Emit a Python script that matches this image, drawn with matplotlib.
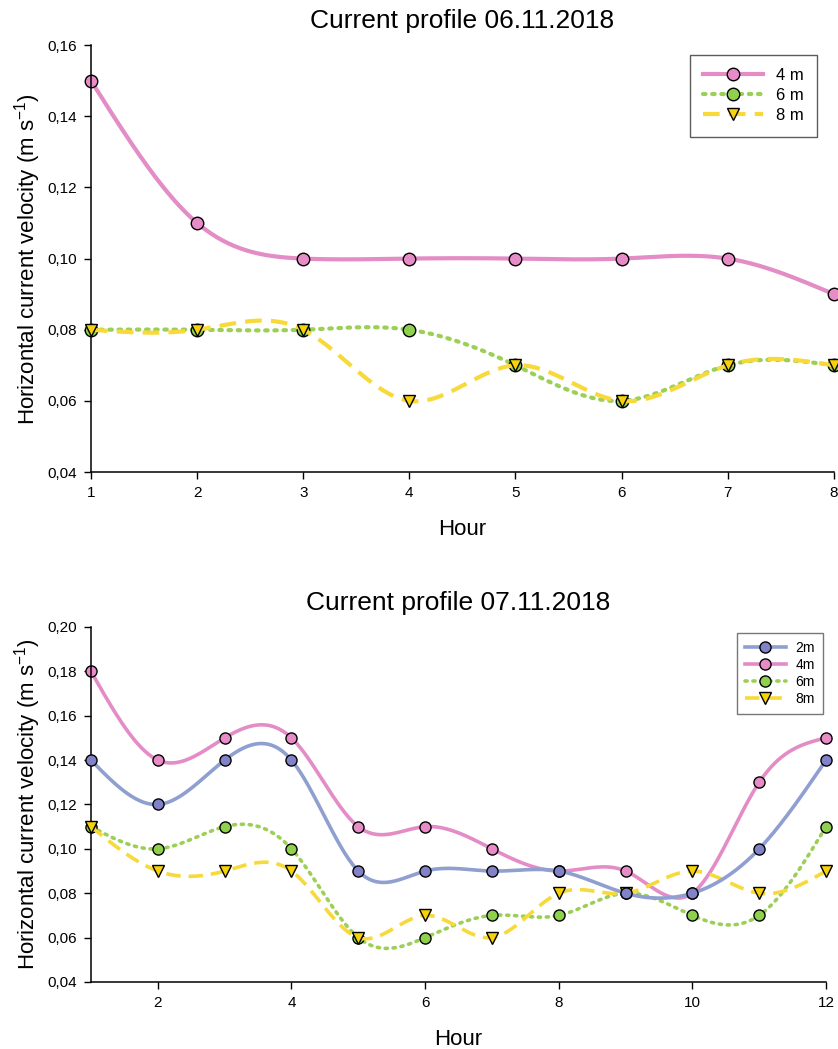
"""Current profiles, two panels, SigmaPlot-like spline curves."""

import matplotlib
matplotlib.use("Agg")
import matplotlib.pyplot as plt
import numpy as np
from matplotlib.ticker import FuncFormatter

plt.rcParams["font.family"] = ["Liberation Sans", "DejaVu Sans"]
plt.rcParams["mathtext.fontset"] = "custom"
plt.rcParams["mathtext.rm"] = "Liberation Sans"
plt.rcParams["mathtext.it"] = "Liberation Sans"

# --- data: 06.11.2018 ---
hours_a = [1, 2, 3, 4, 5, 6, 7, 8]
a_4m = [0.15, 0.11, 0.10, 0.10, 0.10, 0.10, 0.10, 0.09]
a_6m = [0.08, 0.08, 0.08, 0.08, 0.07, 0.06, 0.07, 0.07]
a_8m = [0.08, 0.08, 0.08, 0.06, 0.07, 0.06, 0.07, 0.07]

# --- data: 07.11.2018 ---
hours_b = [1, 2, 3, 4, 5, 6, 7, 8, 9, 10, 11, 12]
b_2m = [0.14, 0.12, 0.14, 0.14, 0.09, 0.09, 0.09, 0.09, 0.08, 0.08, 0.10, 0.14]
b_4m = [0.18, 0.14, 0.15, 0.15, 0.11, 0.11, 0.10, 0.09, 0.09, 0.08, 0.13, 0.15]
b_6m = [0.11, 0.10, 0.11, 0.10, 0.06, 0.06, 0.07, 0.07, 0.08, 0.07, 0.07, 0.11]
b_8m = [0.11, 0.09, 0.09, 0.09, 0.06, 0.07, 0.06, 0.08, 0.08, 0.09, 0.08, 0.09]

PINK_L, PINK_M = "#e38cc6", "#e88cc8"
BLUE_L, BLUE_M = "#8e9fd0", "#8282c8"
GREEN_L, GREEN_M = "#9ccf55", "#8fd04f"
YEL_L, YEL_M = "#f8d93a", "#f5d20a"


def natural_spline(x, y, n=400):
    """Natural cubic spline through the points, for drawing only."""
    x = np.asarray(x, float)
    y = np.asarray(y, float)
    k = len(x)
    h = np.diff(x)
    A = np.zeros((k, k))
    r = np.zeros(k)
    A[0, 0] = A[-1, -1] = 1.0
    for i in range(1, k - 1):
        A[i, i - 1] = h[i - 1]
        A[i, i] = 2 * (h[i - 1] + h[i])
        A[i, i + 1] = h[i]
        r[i] = 6 * ((y[i + 1] - y[i]) / h[i] - (y[i] - y[i - 1]) / h[i - 1])
    m = np.linalg.solve(A, r)
    xs = np.linspace(x[0], x[-1], n)
    idx = np.clip(np.searchsorted(x, xs) - 1, 0, k - 2)
    x0, x1 = x[idx], x[idx + 1]
    hh = x1 - x0
    t0, t1 = x1 - xs, xs - x0
    ys = (m[idx] * t0 ** 3 + m[idx + 1] * t1 ** 3) / (6 * hh) \
        + (y[idx] / hh - m[idx] * hh / 6) * t0 \
        + (y[idx + 1] / hh - m[idx + 1] * hh / 6) * t1
    return xs, ys


def draw(ax, x, y, label, lcolor, mcolor, ls, marker, lw, ms, z):
    xs, ys = natural_spline(x, y)
    dashes = {"solid": "-", "dot": (0, (0.6, 1.6)), "dash": (0, (4, 2.2))}[ls]
    capstyle = "round" if ls == "dot" else "butt"
    ax.plot(xs, ys, color=lcolor, lw=lw, linestyle=dashes,
            solid_capstyle="round", dash_capstyle=capstyle, zorder=z, clip_on=False)
    ax.plot(x, y, linestyle="none", marker=marker, ms=ms, mfc=mcolor,
            mec="black", mew=1.0, zorder=z + 0.5, clip_on=False)
    # legend proxy
    ax.plot([], [], color=lcolor, lw=lw, linestyle=dashes, dash_capstyle=capstyle,
            marker=marker, ms=ms, mfc=mcolor, mec="black", mew=1.0, label=label)


def comma(v, _):
    return f"{v:.2f}".replace(".", ",")


def style(ax, title, ylim, yticks):
    for s in ("top", "right"):
        ax.spines[s].set_visible(False)
    for s in ("left", "bottom"):
        ax.spines[s].set_linewidth(1.1)
    ax.set_ylim(*ylim)
    ax.set_yticks(yticks)
    ax.yaxis.set_major_formatter(FuncFormatter(comma))
    ax.tick_params(direction="out", length=5, width=1, labelsize=11, pad=5)
    ax.set_title(title, fontsize=19, pad=12)
    ax.set_xlabel("Hour", fontsize=16, labelpad=14)
    ax.set_ylabel("Horizontal current velocity (m s$^{-1}$)", fontsize=16, labelpad=3)


fig = plt.figure(figsize=(8.38, 10.49), dpi=100)

ax1 = fig.add_axes([0.1086, 0.550, 0.8864, 0.407])
draw(ax1, hours_a, a_4m, "4 m", PINK_L, PINK_M, "solid", "o", 3.0, 9, 2)
draw(ax1, hours_a, a_6m, "6 m", GREEN_L, GREEN_M, "dot", "o", 3.0, 9, 3)
draw(ax1, hours_a, a_8m, "8 m", YEL_L, YEL_M, "dash", "v", 3.0, 9, 4)
ax1.set_xlim(1, 8)
ax1.set_xticks(hours_a)
style(ax1, "Current profile 06.11.2018", (0.04, 0.16), np.arange(0.04, 0.161, 0.02))
ax1.legend(loc="upper right", bbox_to_anchor=(0.978, 0.977), fontsize=12,
           frameon=True, fancybox=False, edgecolor="#333333", handlelength=3.6,
           borderpad=0.8, labelspacing=0.3, handletextpad=0.8, borderaxespad=0)

ax2 = fig.add_axes([0.1086, 0.0639, 0.8771, 0.3384])
draw(ax2, hours_b, b_4m, "4m", PINK_L, PINK_M, "solid", "o", 2.6, 8, 2)
draw(ax2, hours_b, b_6m, "6m", GREEN_L, GREEN_M, "dot", "o", 2.6, 8, 3)
draw(ax2, hours_b, b_8m, "8m", YEL_L, YEL_M, "dash", "v", 2.6, 8, 4)
draw(ax2, hours_b, b_2m, "2m", BLUE_L, BLUE_M, "solid", "o", 2.6, 8, 5)
ax2.set_xlim(1, 12)
ax2.set_xticks([2, 4, 6, 8, 10, 12])
style(ax2, "Current profile 07.11.2018", (0.04, 0.20), np.arange(0.04, 0.201, 0.02))
h, l = ax2.get_legend_handles_labels()
order = [l.index(n) for n in ("2m", "4m", "6m", "8m")]
ax2.legend([h[i] for i in order], [l[i] for i in order], loc="upper right",
           bbox_to_anchor=(0.996, 0.983), fontsize=10, frameon=True, fancybox=False,
           edgecolor="#555555", handlelength=2.9, borderpad=0.6, labelspacing=0.2,
           handletextpad=0.7, borderaxespad=0)

fig.savefig("out.png", dpi=100)
